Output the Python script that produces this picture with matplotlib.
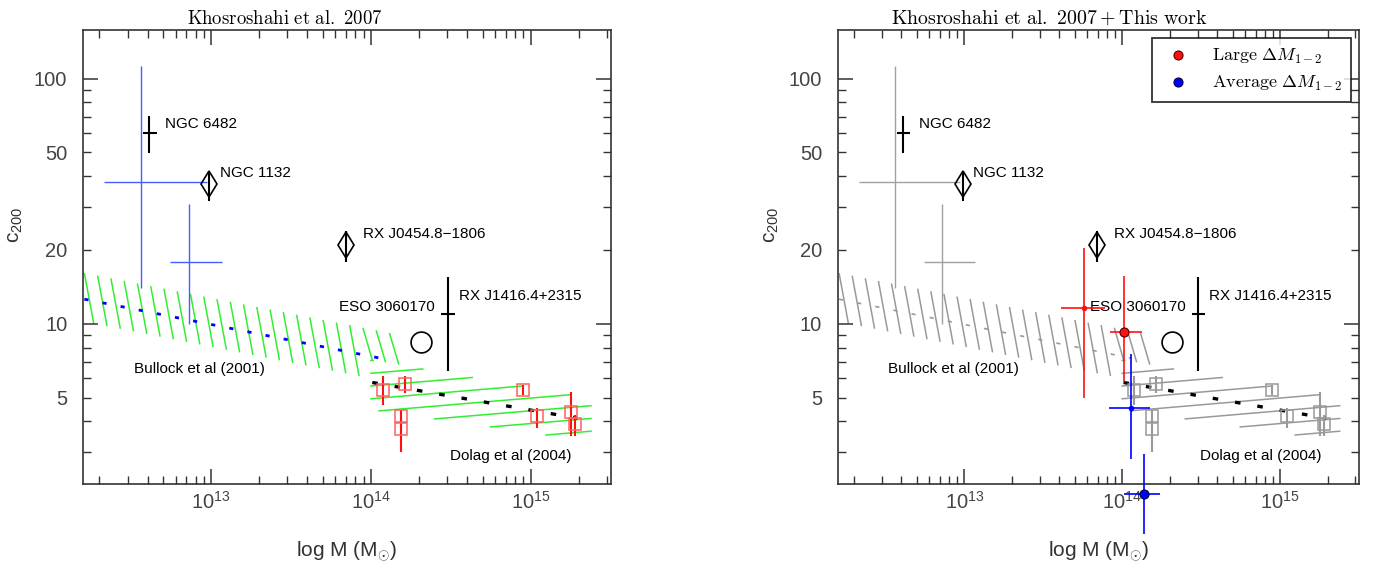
import numpy as np
import matplotlib
matplotlib.use("Agg")
import matplotlib.pyplot as plt
from matplotlib.lines import Line2D
from matplotlib.collections import LineCollection
from matplotlib.ticker import FixedLocator, FuncFormatter, NullFormatter

plt.rcParams.update({
    "font.family": ["Liberation Sans", "DejaVu Sans"],
    "mathtext.fontset": "custom",
    "mathtext.rm": "Liberation Sans",
    "mathtext.it": "Liberation Sans:italic",
    "mathtext.bf": "Liberation Sans:bold",
    "lines.scale_dashes": False,
})

# ---------------- data ----------------
# fossil groups drawn as plain crosses (NGC 6482, RX J1416.4+2315)
cross_M = [4.1e12, 3.03e14]
cross_M_lo = [3.75e12, 2.75e14]
cross_M_hi = [4.56e12, 3.35e14]
cross_c = [60.0, 10.95]
cross_c_lo = [49.8, 6.43]
cross_c_hi = [70.5, 15.5]

# fossil groups drawn as diamonds (NGC 1132, RX J0454.8-1806)
diamond_M = [9.75e12, 6.95e13]
diamond_c = [37.2, 20.9]
diamond_c_lo = [31.8, 17.9]
diamond_c_hi = [41.9, 24.0]

# ESO 3060170
circle_M = [2.07e14]
circle_c = [8.45]

# object names
label_text = ["NGC 6482", "NGC 1132", "RX J0454.8\u22121806", "RX J1416.4+2315",
              "ESO 3060170", "Bullock et al (2001)", "Dolag et al (2004)"]
label_M = [5.15e12, 1.143e13, 8.89e13, 3.55e14, 6.27e13, 3.27e12, 3.11e14]
label_c = [65.5, 41.2, 23.3, 13.0, 11.7, 6.53, 2.89]

# galaxy groups (crosses)
grp_M = [3.64e12, 7.26e12]
grp_M_lo = [2.15e12, 5.52e12]
grp_M_hi = [9.38e12, 1.17e13]
grp_c = [38.0, 17.9]
grp_c_lo = [14.0, 9.97]
grp_c_hi = [113.0, 30.9]

# clusters (squares)
cl_M = [1.19e14, 1.63e14, 1.54e14, 1.54e14, 8.93e14, 1.10e15, 1.80e15, 1.90e15]
cl_c = [5.38, 5.69, 4.19, 3.73, 5.35, 4.19, 4.36, 3.91]
cl_c_lo = [4.68, 5.21, 3.95, 2.99, 5.10, 3.75, 3.47, 3.47]
cl_c_hi = [6.10, 6.10, 4.46, 4.10, 5.60, 4.55, 5.29, 4.26]

# Bullock et al. (2001) relation and scatter band
bullock_M = [1.61e12, 1.14e14]
bullock_c = [12.6, 7.24]
bullock_band_M = [1.61e12, 1.32e14]
bullock_band_hi = [16.1, 9.16]
bullock_band_lo = [10.2, 5.78]

# Dolag et al. (2004) relation and scatter band
dolag_M = [1.02e14, 1.95e15]
dolag_c = [5.76, 4.12]
dolag_band_M = [9.9e13, 2.41e15]
dolag_band_hi = [7.14, 4.98]
dolag_band_lo = [4.46, 3.30]

# this work
large_M = [5.77e13, 1.02e14]
large_M_lo = [4.07e13, 8.4e13]
large_M_hi = [7.83e13, 1.34e14]
large_c = [11.6, 9.3]
large_c_lo = [4.98, 5.8]
large_c_hi = [20.4, 15.6]

avg_M = [1.13e14, 1.38e14]
avg_M_lo = [8.24e13, 1.02e14]
avg_M_hi = [1.51e14, 1.74e14]
avg_c = [4.55, 2.02]
avg_c_lo = [2.8, 1.39]
avg_c_hi = [7.5, 2.94]

x_major = [1e13, 1e14, 1e15]
x_minor = [k * 10.0 ** e for e in (12, 13, 14, 15) for k in range(2, 10)]
y_major = [10, 100]
y_minor = [3, 4, 5, 6, 7, 8, 9, 20, 30, 40, 50, 60, 70, 80, 90]
y_labelled = [5, 20, 50]


def line_fn(m_knots, v_knots):
    x0, x1 = np.log10(m_knots)
    y0, y1 = np.log10(v_knots)
    slope = (y1 - y0) / (x1 - x0)
    return (lambda x: y0 + slope * (x - x0)), slope


def errs(v, lo, hi):
    v, lo, hi = (np.asarray(a, float) for a in (v, lo, hi))
    return np.vstack([v - lo, hi - v])


def bullock_hatch(ax, color, lw, step=0.083, lean=0.059):
    up, _ = line_fn(bullock_band_M, bullock_band_hi)
    dn, _ = line_fn(bullock_band_M, bullock_band_lo)
    floor, _ = line_fn(dolag_band_M, dolag_band_hi)
    d0 = np.log10(dolag_band_M[0])
    lm = np.log10(bullock_band_M)
    segs = []
    for t in np.arange(lm[0], lm[1] + 1e-9, step):
        b = t + lean
        yb = dn(b)
        if b > d0:
            yb = max(yb, floor(b))
        segs.append([(10 ** t, 10 ** up(t)), (10 ** b, 10 ** yb)])
    ax.add_collection(LineCollection(segs, colors=color, linewidths=lw, zorder=1))


def dolag_hatch(ax, color, lw, step=0.052, tilt=0.055):
    up, su = line_fn(dolag_band_M, dolag_band_hi)
    dn, sl = line_fn(dolag_band_M, dolag_band_lo)
    x0, x1 = np.log10(dolag_band_M)
    segs = []
    b = up(x0) - 0.004
    while True:
        xa = max(x0, x0 + (dn(x0) - b) / (tilt - sl))
        xb = min(x1, x0 + (up(x0) - b) / (tilt - su))
        if xa >= x1:
            break
        if xb > xa:
            segs.append([(10 ** xa, 10 ** (b + tilt * (xa - x0))),
                         (10 ** xb, 10 ** (b + tilt * (xb - x0)))])
        b -= step
    ax.add_collection(LineCollection(segs, colors=color, linewidths=lw, zorder=1))


def setup(ax):
    ax.set_xscale("log")
    ax.set_yscale("log")
    ax.set_xlim(10 ** 12.2, 10 ** 15.5)
    ax.set_ylim(2.22, 158)
    ax.xaxis.set_major_locator(FixedLocator(x_major))
    ax.xaxis.set_minor_locator(FixedLocator(x_minor))
    ax.xaxis.set_major_formatter(
        FuncFormatter(lambda v, p: r"$10^{%d}$" % int(round(np.log10(v)))))
    ax.xaxis.set_minor_formatter(NullFormatter())
    ax.yaxis.set_major_locator(FixedLocator(y_major))
    ax.yaxis.set_minor_locator(FixedLocator(y_minor))
    ax.yaxis.set_major_formatter(FuncFormatter(lambda v, p: "%d" % round(v)))
    ax.yaxis.set_minor_formatter(
        FuncFormatter(lambda v, p: "%d" % round(v) if round(v) in y_labelled else ""))
    ax.tick_params(which="both", direction="in", top=True, right=True,
                   colors="#333333", labelcolor="#444444", labelsize=14.5)
    ax.tick_params(which="major", length=10.5, width=1.1)
    ax.tick_params(which="minor", length=5.5, width=1.0)
    ax.tick_params(axis="x", which="both", pad=5)
    ax.tick_params(axis="y", which="both", pad=11.5)
    for s in ax.spines.values():
        s.set_color("#333333")
        s.set_linewidth(1.2)
    ax.set_xlabel(r"log M (M$_{\odot}$)", fontsize=15, color="#333333")
    ax.xaxis.set_label_coords(0.5, -0.123)
    ax.set_ylabel(r"c$_{200}$", fontsize=15, color="#333333")
    ax.yaxis.set_label_coords(-0.11, 0.57)


def draw_common(ax, grp_col, hatch_col, cl_face, cl_bar, mean_col, mean_lw, mean_dash):
    bullock_hatch(ax, hatch_col, 1.1)
    dolag_hatch(ax, hatch_col, 1.1)
    ax.plot(bullock_M, bullock_c, color=mean_col, lw=mean_lw,
            dashes=mean_dash, zorder=2)
    ax.plot(dolag_M, dolag_c, color="black", lw=2.4, dashes=(4.0, 12.3),
            zorder=2)
    ax.errorbar(grp_M, grp_c, xerr=errs(grp_M, grp_M_lo, grp_M_hi),
                yerr=errs(grp_c, grp_c_lo, grp_c_hi), fmt="none",
                ecolor=grp_col, elinewidth=1.0, capsize=0, zorder=3)
    ax.errorbar(cl_M, cl_c, yerr=errs(cl_c, cl_c_lo, cl_c_hi), fmt="s",
                ms=8.5, mfc="none", mec=cl_face, mew=1.1, ecolor=cl_bar,
                elinewidth=1.5, capsize=0, zorder=3)
    # fossil groups
    ax.errorbar(cross_M, cross_c, xerr=errs(cross_M, cross_M_lo, cross_M_hi),
                yerr=errs(cross_c, cross_c_lo, cross_c_hi), fmt="none",
                ecolor="black", elinewidth=1.5, capsize=0, zorder=4)
    ax.errorbar(diamond_M, diamond_c, yerr=errs(diamond_c, diamond_c_lo, diamond_c_hi),
                fmt="d", ms=13, mfc="none", mec="black", mew=1.2,
                ecolor="black", elinewidth=1.5, capsize=0, zorder=4)
    ax.plot(circle_M, circle_c, "o", ms=15, mfc="none", mec="black",
            mew=1.2, zorder=4)
    for t, m, c in zip(label_text, label_M, label_c):
        ax.text(m, c, t, fontsize=11, ha="left", va="center", color="black",
                zorder=5)


fig = plt.figure(figsize=(13.74, 5.70), dpi=100)
ax1 = fig.add_axes([0.0606, 0.1509, 0.3838, 0.7965])
ax2 = fig.add_axes([0.6099, 0.1509, 0.3792, 0.7965])

for ax in (ax1, ax2):
    setup(ax)

draw_common(ax1, grp_col="#4a5cff", hatch_col="#33ee33", cl_face="#ff6060",
            cl_bar="#ff1010", mean_col="#0000ff", mean_lw=2.0,
            mean_dash=(3.0, 10.3))
draw_common(ax2, grp_col="#a0a0a0", hatch_col="#999999", cl_face="#999999",
            cl_bar="#999999", mean_col="#999999", mean_lw=1.2,
            mean_dash=(3.0, 10.3))

# this work
ax2.errorbar(large_M[:1], large_c[:1],
             xerr=errs(large_M[:1], large_M_lo[:1], large_M_hi[:1]),
             yerr=errs(large_c[:1], large_c_lo[:1], large_c_hi[:1]),
             fmt="o", ms=3, color="#ff1010", elinewidth=1.2, capsize=0, zorder=6)
ax2.errorbar(large_M[1:], large_c[1:],
             xerr=errs(large_M[1:], large_M_lo[1:], large_M_hi[1:]),
             yerr=errs(large_c[1:], large_c_lo[1:], large_c_hi[1:]),
             fmt="o", ms=6.5, mfc="#ff1010", mec="#550000", mew=0.8,
             ecolor="#ff1010", elinewidth=1.2, capsize=0, zorder=6)
ax2.errorbar(avg_M[:1], avg_c[:1],
             xerr=errs(avg_M[:1], avg_M_lo[:1], avg_M_hi[:1]),
             yerr=errs(avg_c[:1], avg_c_lo[:1], avg_c_hi[:1]),
             fmt="o", ms=3, color="#0000ff", elinewidth=1.2, capsize=0, zorder=6)
eb = ax2.errorbar(avg_M[1:], avg_c[1:],
                  xerr=errs(avg_M[1:], avg_M_lo[1:], avg_M_hi[1:]),
                  yerr=errs(avg_c[1:], avg_c_lo[1:], avg_c_hi[1:]),
                  fmt="o", ms=6.5, mfc="#0000ff", mec="#000044", mew=0.8,
                  ecolor="#0000ff", elinewidth=1.2, capsize=0, zorder=6)
for artist in eb.lines[0:1] + tuple(eb.lines[2]):
    artist.set_clip_on(False)

handles = [
    Line2D([], [], ls="none", marker="o", ms=6.5, mfc="#ff1010", mec="#550000", mew=0.8),
    Line2D([], [], ls="none", marker="o", ms=6.5, mfc="#0000ff", mec="#000044", mew=0.8),
]
leg = ax2.legend(handles, [r"$\mathrm{Large}\ \Delta M_{1-2}$",
                           r"$\mathrm{Average}\ \Delta M_{1-2}$"],
                 loc="upper right", fontsize=13, frameon=True, fancybox=False,
                 edgecolor="black", borderpad=0.5, handlelength=1.9,
                 handletextpad=0.9, labelspacing=0.45, borderaxespad=0.45)
leg.get_frame().set_linewidth(1.3)
for t in leg.get_texts():
    t.set_math_fontfamily("cm")

ax1.text(0.3825, 1.013, r"$\mathrm{Khosroshahi\ et\ al.\ 2007}$",
         transform=ax1.transAxes, ha="center", va="baseline", fontsize=13.5,
         math_fontfamily="cm")
ax2.text(0.405, 1.013, r"$\mathrm{Khosroshahi\ et\ al.\ 2007} + \mathrm{This\ work}$",
         transform=ax2.transAxes, ha="center", va="baseline", fontsize=14.3,
         math_fontfamily="cm")

fig.savefig("out.png", dpi=100)
